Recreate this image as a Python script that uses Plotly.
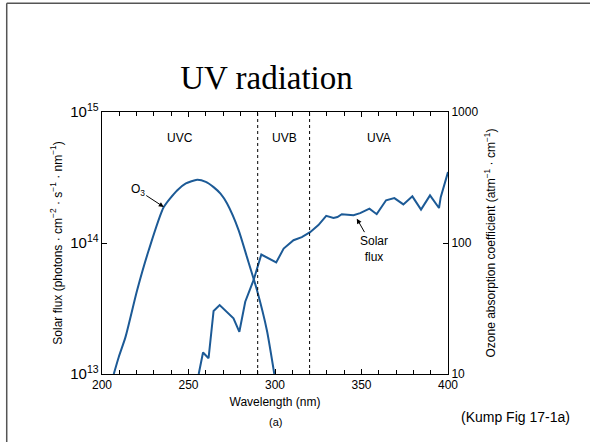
import plotly.graph_objects as go

# ---- data ----
ozone_nm = [206.8, 209.7, 213.6, 220.3, 227.0, 235.7, 243.4, 248.5, 255.0, 260.0, 264.5, 268.5, 272.3, 279.0, 283.8, 289.6, 295.3, 299.6]
ozone_coef = [10, 13.5, 19.2, 43.6, 88, 188, 252, 285, 304, 293, 267, 238, 200, 125, 78, 43.6, 21.6, 10]

solar_nm = [255.9, 258.4, 261.6, 264.5, 268.0, 276.0, 279.4, 282.8, 287.6, 292.1, 300.7, 305.0,
            310.7, 315.5, 320.3, 325.1, 329.6, 333.8, 336.1, 338.6, 345.4, 349.2, 354.6, 358.8,
            364.2, 369.0, 374.2, 379.4, 384.4, 389.6, 394.8, 395.8, 400.0]
solar_flux = [1.0e13, 1.46e13, 1.32e13, 3.03e13, 3.36e13, 2.66e13, 2.1e13, 3.56e13, 5.2e13, 8.17e13, 7.1e13, 9.07e13,
              1.05e14, 1.11e14, 1.21e14, 1.37e14, 1.61e14, 1.55e14, 1.58e14, 1.66e14, 1.63e14, 1.69e14, 1.83e14, 1.66e14,
              2.12e14, 2.2e14, 1.97e14, 2.27e14, 1.8e14, 2.31e14, 1.85e14, 2.24e14, 3.48e14]

band_edges = [290, 320]
band_labels = ["UVC", "UVB", "UVA"]
band_label_x = [245, 305.5, 360]
x_ticks = [200, 250, 300, 350, 400]

LINE = "#1c5a96"
FONT = "Liberation Sans, Arial, sans-serif"

fig = go.Figure()
fig.add_trace(go.Scatter(x=ozone_nm, y=ozone_coef, yaxis="y2", mode="lines",
                         line=dict(color=LINE, width=2, shape="spline", smoothing=0.6),
                         showlegend=False, hoverinfo="skip"))
fig.add_trace(go.Scatter(x=solar_nm, y=solar_flux, yaxis="y", mode="lines",
                         line=dict(color=LINE, width=2),
                         showlegend=False, hoverinfo="skip"))

shapes = []
for e in band_edges:
    shapes.append(dict(type="line", xref="x", yref="paper", x0=e, x1=e, y0=0, y1=1,
                       line=dict(color="black", width=1, dash="3px,3px")))
# slide frame (left and top edges)
shapes.append(dict(type="line", xref="paper", yref="paper", x0=(6 - 101.5) / 346.8, x1=(6 - 101.5) / 346.8,
                   y0=(374 - 2.5) / 262.5, y1=(374 - 445) / 262.5, line=dict(color="#555555", width=1.5)))
shapes.append(dict(type="line", xref="paper", yref="paper", x0=(6 - 101.5) / 346.8, x1=(595 - 101.5) / 346.8,
                   y0=(374 - 2.5) / 262.5, y1=(374 - 2.5) / 262.5, line=dict(color="#555555", width=1.5)))

annotations = []
for lab, xx in zip(band_labels, band_label_x):
    annotations.append(dict(x=xx, y=14.8, xref="x", yref="y", text=lab, showarrow=False,
                            font=dict(family=FONT, size=12, color="black")))
annotations.append(dict(x=235.7, y=14.275, xref="x", yref="y", text="O<sub>3</sub>",
                        showarrow=True, ax=-26, ay=-17, arrowhead=2, arrowsize=1, arrowwidth=1,
                        arrowcolor="black", font=dict(family=FONT, size=12, color="black")))
annotations.append(dict(x=347.3, y=14.186, xref="x", yref="y", text="Solar<br>flux",
                        showarrow=True, ax=17, ay=30, arrowhead=2, arrowsize=1, arrowwidth=1,
                        arrowcolor="black", font=dict(family=FONT, size=12, color="black")))
annotations.append(dict(x=(275 - 101.5) / 346.8, y=(374 - 422) / 262.5, xref="paper", yref="paper",
                        xanchor="center", yanchor="middle",
                        text="(a)", showarrow=False, font=dict(family=FONT, size=11, color="black")))
annotations.append(dict(x=(516 - 101.5) / 346.8, y=(374 - 417) / 262.5, xref="paper", yref="paper",
                        xanchor="center", yanchor="middle",
                        text="(Kump Fig 17-1a)", showarrow=False, font=dict(family=FONT, size=14, color="black")))

fig.update_layout(
    width=590, height=442,
    margin=dict(l=101.5, r=141.7, t=111.5, b=68),
    paper_bgcolor="white", plot_bgcolor="white",
    font=dict(family=FONT, size=12, color="black"),
    title=dict(text="UV radiation", x=266.5 / 590, xanchor="center", y=1 - 77 / 442, yanchor="middle",
               yref="container", font=dict(family="Liberation Serif, Times New Roman, serif", size=33, color="black")),
    xaxis=dict(range=[200, 400], tickvals=x_ticks, ticks="inside", ticklen=5, tickwidth=1, tickcolor="black",
               showline=True, linecolor="black", linewidth=1, mirror="ticks", showgrid=False, zeroline=False,
               minor=dict(dtick=10, ticks="inside", ticklen=4, tickcolor="black", showgrid=False),
               tickfont=dict(size=12),
               title=dict(text="Wavelength (nm)", standoff=6, font=dict(size=12))),
    yaxis=dict(type="log", range=[13, 15], dtick=1, exponentformat="power", ticks="inside", ticklen=5,
               tickcolor="black", showline=True, linecolor="black", linewidth=1, showgrid=False, zeroline=False,
               tickfont=dict(size=12),
               title=dict(text="Solar flux (photons · cm<sup>−2</sup> · s<sup>−1</sup> · nm<sup>−1</sup>)",
                          standoff=5, font=dict(size=12))),
    yaxis2=dict(type="log", range=[1, 3], dtick=1, exponentformat="none", overlaying="y", side="right",
                ticks="inside", ticklen=5, tickcolor="black", showline=True, linecolor="black", linewidth=1,
                showgrid=False, zeroline=False, tickfont=dict(size=12),
                title=dict(text="Ozone absorption coefficient (atm<sup>−1</sup> · cm<sup>−1</sup>)",
                           standoff=9, font=dict(size=12))),
    shapes=shapes, annotations=annotations, showlegend=False,
)

fig.write_html("out.html", config={"displayModeBar": False},
               post_script="document.body.style.margin='0';document.body.style.overflow='hidden';")
